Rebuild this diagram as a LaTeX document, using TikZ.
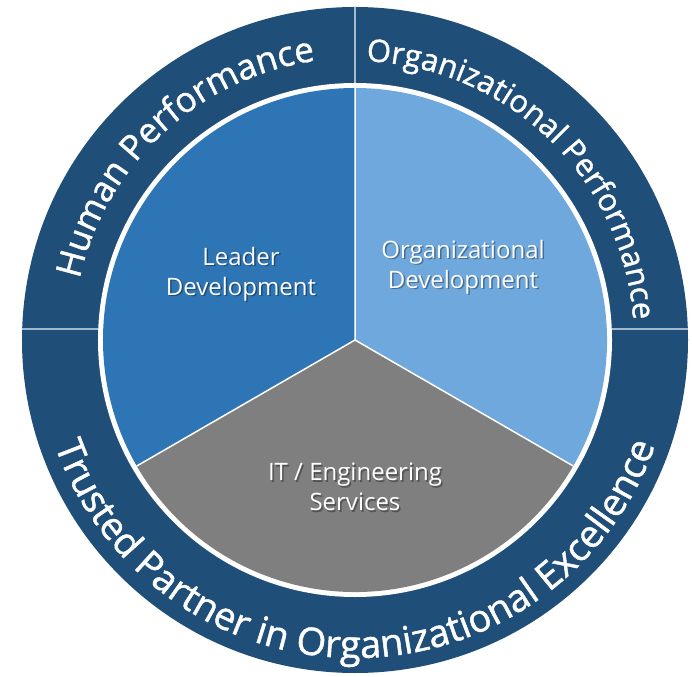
\documentclass[tikz,border=0pt]{standalone}
\usepackage{fontspec}
\setmainfont{Open Sans}
\newfontfamily\ringfont[FakeBold=1.2]{Open Sans}
\usetikzlibrary{decorations.text}
\definecolor{ringblue}{RGB}{31,78,121}
\definecolor{leaderblue}{RGB}{46,117,182}
\definecolor{orgblue}{RGB}{111,168,220}
\definecolor{itgrey}{RGB}{127,127,127}
\definecolor{splitline}{RGB}{165,185,205}
\newcommand{\sector}[3]{ \fill[#3] (0,0) -- (#1:252) arc[start angle=#1, end angle=#2, radius=252] -- cycle;}
\newcommand{\ringtext}[5]{ \path[decorate, decoration={text along path, text align=center, text={|\ringfont\fontsize{#4}{#4}\selectfont\color{white}|#5}}] (#1:#3) arc[start angle=#1, end angle=#2, radius=#3];}
\newcommand{\pielabel}[4]{ \node[label shadow] (#1shadow) at ( #2 + 1.5 , #3 - 1.5 ){#4}; \node[pie label] (#1) at ( #2 , #3 ){#4};}

\begin{document}
\begin{tikzpicture}[x=1pt,y=1pt,
    pie label/.style={text=white, align=center, inner sep=0pt, font=\fontsize{24}{30}\selectfont},
    label shadow/.style={pie label, text=black, opacity=0.35}]
        \useasboundingbox ( -355 , -336 ) rectangle ( 337 , 340 );
        % ring
        \fill[ringblue] (0,0) circle[radius=333];
        \draw[splitline, line width=1.2] (0,257) -- (0,333);
        \draw[splitline, line width=1.2] (-333,11) -- (-257,11);
        \draw[splitline, line width=1.2] (257,11) -- (333,11);
        \fill[white] (0,0) circle[radius=257];
        % pie
        \sector{90}{210}{leaderblue}
        \sector{-30}{90}{orgblue}
        \sector{210}{330}{itgrey}
        \draw[white, line width=1.5] (0,0) -- (90:252) (0,0) -- (210:252) (0,0) -- (330:252);

        % ring text
        \ringtext{180}{85.6}{282}{35}{Human Performance}
        \ringtext{95.9}{-4.1}{279}{31}{Organizational Performance}
        \ringtext{185}{355}{318}{38}{Trusted Partner in Organizational Excellence}

        % pie text
        \pielabel{leader}{-114}{66}{Leader\\Development}
        \pielabel{orgdev}{108}{73}{Organizational\\Development}
        \pielabel{itserv}{0}{-147}{IT / Engineering\\Services}
    \end{tikzpicture}
\end{document}
